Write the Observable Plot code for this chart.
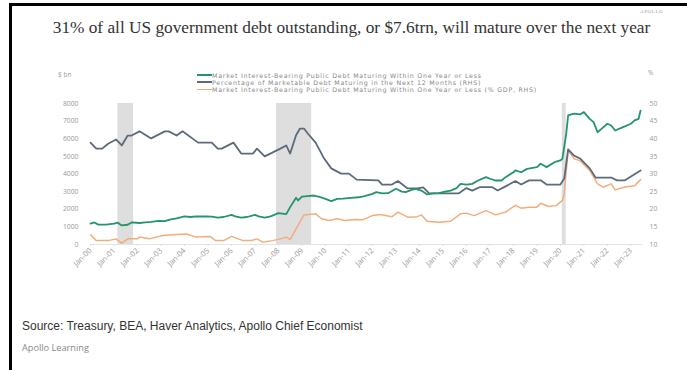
<!DOCTYPE html>
<html>
<head>
<meta charset="utf-8">
<script src="https://cdn.jsdelivr.net/npm/d3@7"></script>
<script src="https://cdn.jsdelivr.net/npm/@observablehq/plot@0.6"></script>
<style>
  html, body { margin: 0; padding: 0; background: #fff; }
  body { width: 687px; height: 370px; position: relative; overflow: hidden; }
  #frame { position: absolute; left: 9px; top: 3px; right: -5px; bottom: -5px; border-left: 3px solid #000; border-top: 3px solid #000; }
  #title { position: absolute; left: 0; width: 703px; top: 18px; text-align: center; font-family: "Liberation Serif", serif; font-size: 17.3px; color: #333; white-space: nowrap; }
  #brand { position: absolute; left: 640px; top: 9px; font-family: "Liberation Serif", serif; font-size: 5px; letter-spacing: 0.6px; color: #999; }
  #chart { position: absolute; left: 0; top: 55px; }
  .ax { position: absolute; font-family: "Open Sans", sans-serif; font-size: 6.5px; color: #999; }
  #legend { position: absolute; left: 197px; top: 71.5px; font-family: "DejaVu Sans", sans-serif; font-size: 6.3px; letter-spacing: 0.75px; color: #888; line-height: 7.2px; }
  #legend div { display: flex; align-items: center; white-space: nowrap; height: 7.2px; }
  #legend span.sw { display: inline-block; width: 15px; height: 1.6px; margin-right: 0; }
  #source { position: absolute; left: 22px; top: 319px; font-family: "Liberation Sans", sans-serif; font-size: 12px; color: #333; }
  #learn { position: absolute; left: 22px; top: 341px; font-family: "Open Sans", sans-serif; font-size: 9.2px; color: #888; }
</style>
</head>
<body>
<div id="frame"></div>
<div id="brand">APOLLO</div>
<div id="title">31% of all US government debt outstanding, or $7.6trn, will mature over the next year</div>
<div id="chart"></div>
<div class="ax" style="left:58px; top:70px;">$ bn</div>
<div class="ax" style="left:648px; top:68px;">%</div>
<div id="legend"></div>
<div id="source">Source: Treasury, BEA, Haver Analytics, Apollo Chief Economist</div>
<div id="learn">Apollo Learning</div>
<script>
// ---- Data ----
const seriesNames = [
  "Market Interest-Bearing Public Debt Maturing Within One Year or Less",
  "Percentage of Marketable Debt Maturing in the Next 12 Months (RHS)",
  "Market Interest-Bearing Public Debt Maturing Within One Year or Less (% GDP, RHS)"
];
const seriesColors = ["#23956a", "#5d6a7b", "#f2ad7c"];

// $ bn, left axis
const debtDates = ["2000-01","2000-03","2000-05","2000-09","2001-01","2001-03","2001-05","2001-08","2001-10","2002-02","2002-05","2002-08","2002-12","2003-03","2003-06","2003-09","2004-01","2004-04","2004-07","2004-12","2005-03","2005-06","2005-09","2006-01","2006-03","2006-06","2006-09","2007-01","2007-03","2007-06","2007-09","2008-01","2008-05","2008-07","2008-10","2008-11","2009-01","2009-04","2009-07","2009-10","2010-01","2010-04","2010-07","2010-10","2011-02","2011-06","2011-09","2012-01","2012-03","2012-06","2012-09","2013-01","2013-04","2013-06","2013-09","2013-11","2014-02","2014-05","2014-08","2014-11","2015-02","2015-05","2015-08","2015-10","2016-01","2016-04","2016-07","2016-11","2017-01","2017-04","2017-07","2017-09","2018-01","2018-02","2018-05","2018-08","2019-01","2019-03","2019-06","2019-10","2020-01","2020-02","2020-04","2020-05","2020-08","2020-11","2021-01","2021-04","2021-06","2021-08","2021-10","2022-01","2022-03","2022-05","2022-09","2023-01","2023-03","2023-05","2023-06"];
const debtValues = [1190,1250,1130,1130,1180,1240,1080,1120,1250,1220,1250,1280,1340,1330,1430,1480,1590,1560,1600,1590,1580,1530,1560,1680,1600,1530,1560,1680,1600,1530,1600,1780,1720,2120,2650,2500,2720,2750,2780,2700,2590,2460,2590,2600,2650,2680,2750,2870,2970,2900,2910,3160,3000,2970,3100,3160,3060,2840,2900,2910,3000,3060,3200,3440,3400,3440,3630,3820,3730,3630,3630,3820,4100,4200,4100,4290,4390,4580,4390,4670,4770,4860,6280,7320,7420,7380,7510,7130,6940,6370,6560,6850,6750,6470,6660,6850,7040,7130,7600];

// %, right axis
const shareDates = ["2000-01","2000-04","2000-07","2000-10","2001-02","2001-05","2001-08","2001-10","2002-02","2002-08","2003-03","2003-05","2003-09","2003-12","2004-08","2005-03","2005-06","2005-08","2006-02","2006-06","2006-12","2007-02","2007-06","2008-02","2008-05","2008-07","2008-10","2008-12","2009-02","2009-04","2009-08","2009-12","2010-04","2010-09","2011-01","2011-05","2012-04","2012-06","2012-11","2013-02","2013-07","2013-12","2014-03","2014-06","2015-09","2016-01","2016-04","2016-08","2017-02","2017-05","2017-09","2018-02","2018-05","2018-09","2019-03","2019-06","2020-01","2020-03","2020-05","2020-08","2020-11","2021-04","2021-07","2022-03","2022-06","2022-10","2023-06"];
const shareValues = [38.9,37.2,37.2,38.6,39.8,38.1,40.9,40.9,42.1,40.1,42.1,42.1,40.9,42.1,38.9,38.9,37.2,37.2,38.9,35.8,35.8,37.2,35.0,37.2,38.1,35.8,41.0,42.9,42.9,41.5,38.9,34.7,31.6,30.1,30.1,28.4,28.2,27.0,27.0,28.0,25.9,25.9,26.2,24.5,24.5,26.0,25.3,26.3,26.3,25.3,26.5,28.0,27.0,28.2,28.2,27.0,27.0,28.7,37.0,35.2,34.4,31.6,29.0,29.0,28.2,28.2,31.0];

// % of GDP, right axis
const gdpDates = ["2000-01","2000-04","2000-10","2001-02","2001-05","2001-08","2002-01","2002-02","2002-07","2003-02","2003-07","2004-02","2004-07","2005-02","2005-05","2005-09","2006-01","2006-07","2006-11","2007-02","2007-05","2007-10","2008-02","2008-05","2008-07","2008-10","2009-02","2009-08","2009-11","2010-03","2010-07","2010-11","2011-04","2011-08","2012-01","2012-05","2012-11","2013-02","2013-07","2013-12","2014-02","2014-05","2014-11","2015-05","2015-10","2016-01","2016-05","2016-11","2017-04","2017-09","2018-02","2018-05","2018-09","2019-01","2019-03","2019-07","2019-11","2020-02","2020-03","2020-05","2020-08","2020-11","2021-04","2021-08","2021-11","2022-03","2022-05","2022-10","2023-03","2023-06"];
const gdpValues = [12.75,11.1,11.1,11.6,10.4,11.6,11.6,12.1,11.6,12.55,12.75,13.0,12.1,12.3,11.1,11.1,12.3,11.1,11.1,11.6,10.65,11.1,11.6,12.1,11.4,14.45,18.4,18.7,17.3,16.8,17.3,16.8,17.1,17.0,18.2,18.5,17.9,19.2,17.75,17.9,18.4,16.6,16.3,16.6,18.7,18.9,18.2,19.6,18.4,19.2,21.1,20.3,20.6,20.6,21.7,20.8,21.1,22.5,24.4,36.7,34.3,33.8,31.0,27.2,26.3,27.2,25.5,26.3,26.7,28.4];

// Recessions (shaded)
const recessionStarts = ["2001-03","2007-12","2020-02"];
const recessionEnds   = ["2001-11","2009-06","2020-04"];

// Axis ticks
const leftTicks = [0,1000,2000,3000,4000,5000,6000,7000,8000];
const rightTicks = [10,15,20,25,30,35,40,45,50];
const yearTicks = d3.range(2000, 2024);

// ---- Build ----
const parse = s => new Date(s + "-01T00:00:00Z");
// right axis: 10% ↔ 0 bn, 50% ↔ 8000 bn
const pctToBn = p => (p - 10) * 200;

const debt = debtDates.map((d, i) => ({date: parse(d), v: debtValues[i]}));
const share = shareDates.map((d, i) => ({date: parse(d), v: shareValues[i]}));
const gdp = gdpDates.map((d, i) => ({date: parse(d), v: gdpValues[i]}));
const recessions = recessionStarts.map((s, i) => ({start: parse(s), end: parse(recessionEnds[i])}));

const fmt = d3.utcFormat("Jan-%y");

const chart = Plot.plot({
  width: 687,
  height: 219,
  marginTop: 48,
  marginBottom: 30,
  marginLeft: 90,
  marginRight: 45,
  style: {fontFamily: "Open Sans, sans-serif", fontSize: "6.5px", color: "#999", background: "transparent"},
  x: {type: "utc", domain: [parse("2000-01"), parse("2023-07")]},
  y: {domain: [0, 8000]},
  marks: [
    Plot.rectY(recessions, {x1: "start", x2: "end", y1: 0, y2: 8000, fill: "#dedede"}),
    Plot.ruleY([0], {stroke: "#e4e4e4", strokeWidth: 1}),
    Plot.lineY(gdp, {x: "date", y: d => pctToBn(d.v), stroke: seriesColors[2], strokeWidth: 1.5}),
    Plot.lineY(share, {x: "date", y: d => pctToBn(d.v), stroke: seriesColors[1], strokeWidth: 1.8}),
    Plot.lineY(debt, {x: "date", y: "v", stroke: seriesColors[0], strokeWidth: 1.8}),
    Plot.axisY({anchor: "left", ticks: leftTicks, tickSize: 0, tickPadding: 12, tickFormat: d => String(d), label: null, fill: "#999", fontSize: 6.8}),
    Plot.axisY({anchor: "right", ticks: rightTicks.map(pctToBn), tickSize: 0, tickPadding: 7, tickFormat: d => String(d / 200 + 10), label: null, fill: "#999", fontSize: 6.8}),
    Plot.axisX({ticks: yearTicks.map(y => new Date(Date.UTC(y, 0, 1))), tickFormat: fmt, tickRotate: -45, tickSize: 2, tickPadding: 3, stroke: "#ddd", fill: "#999", fontSize: 7.6, label: null})
  ]
});
document.getElementById("chart").appendChild(chart);

// Legend
const legend = document.getElementById("legend");
seriesNames.forEach((name, i) => {
  const row = document.createElement("div");
  const sw = document.createElement("span");
  sw.className = "sw";
  sw.style.background = seriesColors[i];
  row.appendChild(sw);
  row.appendChild(document.createTextNode(name));
  legend.appendChild(row);
});
</script>
</body>
</html>
